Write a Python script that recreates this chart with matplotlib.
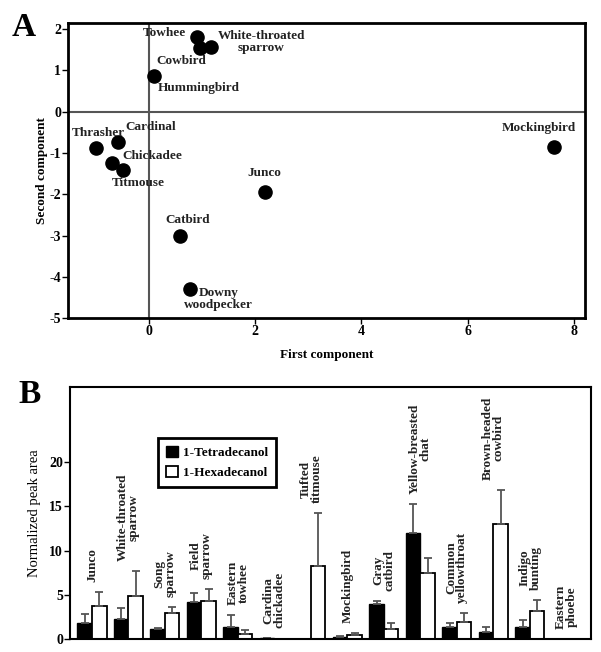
import numpy as np
import matplotlib
matplotlib.use("Agg")
import matplotlib.pyplot as plt
from matplotlib.patches import Patch

plt.rcParams['font.family'] = ['Liberation Serif', 'DejaVu Serif']
plt.rcParams['font.weight'] = 'bold'
plt.rcParams['axes.unicode_minus'] = False

# Panel A: PCA scores
birds_a = ["Towhee", "White-throated\nsparrow", "Cowbird", "Hummingbird", "Thrasher",
           "Cardinal", "Chickadee", "Titmouse", "Junco", "Mockingbird", "Catbird",
           "Downy\nwoodpecker"]
pc1 = [0.90, 1.18, 0.96, 0.09, -1.00, -0.58, -0.69, -0.48, 2.19, 7.63, 0.58, 0.77]
pc2 = [1.80, 1.57, 1.53, 0.86, -0.87, -0.74, -1.24, -1.42, -1.95, -0.86, -3.00, -4.29]

# Panel B: normalized peak areas
birds_b = ["Junco", "White-throated\nsparrow", "Song\nsparrow", "Field\nsparrow",
           "Eastern\ntowhee", "Cardina\nchickadee", "Tufted\ntitmouse", "Mockingbird",
           "Gray\ncatbird", "Yellow-breasted\nchat", "Common\nyellowthroat",
           "Brown-headed\ncowbird", "Indigo\nbunting", "Eastern\nphoebe"]
tetra = [1.85, 2.3, 1.1, 4.15, 1.3, 0.08, 0.05, 0.25, 3.9, 12.0, 1.3, 0.8, 1.3, 0.05]
tetra_err = [0.95, 1.2, 0.15, 1.0, 1.4, 0.0, 0.0, 0.05, 0.4, 3.3, 0.45, 0.5, 0.85, 0.0]
hexa = [3.7, 4.85, 2.9, 4.35, 0.55, 0.05, 8.2, 0.4, 1.15, 7.45, 1.9, 13.0, 3.15, 0.05]
hexa_err = [1.65, 2.85, 0.7, 1.35, 0.45, 0.0, 6.0, 0.3, 0.6, 1.7, 1.0, 3.9, 1.25, 0.0]

# label offsets in pixels (dx, dy, ha) for panel A
offsets = [(-11, 4, 'right'), (50, 5, 'center'), (-18, -13, 'center'), (4, -12, 'left'),
           (3, 15, 'center'), (7, 15, 'left'), (10, 7, 'left'), (15, -13, 'center'),
           (-1, 19, 'center'), (-16, 19, 'center'), (8, 16, 'center'), (29, -10, 'center')]

fig = plt.figure(figsize=(6.01, 6.52), dpi=100)

# ---- Panel A
axA = fig.add_axes([0.113, 0.512, 0.860, 0.453])
axA.axhline(0, color='#555555', lw=1.5, zorder=1)
axA.axvline(0, color='#555555', lw=1.5, zorder=1)
axA.scatter(pc1, pc2, s=90, color='black', zorder=3)
for name, x, y, (dx, dy, ha) in zip(birds_a, pc1, pc2, offsets):
    axA.annotate(name, (x, y), xytext=(dx, dy), textcoords='offset pixels',
                 ha=ha, va='center', fontsize=9.5, fontweight='bold',
                 linespacing=1.0, color='#222222')
axA.set_xlim(-1.52, 8.2)
axA.set_ylim(-5, 2.15)
axA.set_xticks([0, 2, 4, 6, 8])
axA.set_yticks([-5, -4, -3, -2, -1, 0, 1, 2])
axA.tick_params(direction='out', length=4, width=1, labelsize=10, pad=1)
axA.set_xlabel("First component", fontsize=9.5, fontweight='bold', labelpad=8)
axA.set_ylabel("Second component", fontsize=9.5, fontweight='bold', labelpad=1)
for s in axA.spines.values():
    s.set_linewidth(2)
fig.text(0.02, 0.958, "A", fontsize=24, fontweight='bold', va='center')

# ---- Panel B
axB = fig.add_axes([0.1165, 0.020, 0.8665, 0.3864])
x = np.arange(len(birds_b))
w = 0.4
ekw = dict(ecolor='#555555', elinewidth=1.3, capsize=3, capthick=1.3)
axB.bar(x - w / 2, tetra, w, color='black', edgecolor='black', lw=1,
        yerr=[np.zeros(len(x)), tetra_err], error_kw=ekw, label='1-Tetradecanol')
axB.bar(x + w / 2, hexa, w, color='white', edgecolor='black', lw=1.3,
        yerr=[np.zeros(len(x)), hexa_err], error_kw=ekw, label='1-Hexadecanol')
tops = np.maximum(np.array(tetra) + tetra_err, np.array(hexa) + hexa_err)
for i, name in enumerate(birds_b):
    axB.annotate(name, (x[i], tops[i]), xytext=(0, 10), textcoords='offset pixels',
                 rotation=90, ha='center', va='bottom', fontsize=9.5,
                 fontweight='bold', linespacing=0.9, color='#222222')
axB.set_xlim(-0.6, 13.67)
axB.set_ylim(0, 28.5)
axB.set_xticks([])
axB.set_yticks([0, 5, 10, 15, 20])
axB.tick_params(axis='y', direction='out', length=4, width=1, labelsize=10, pad=1)
axB.set_ylabel("Normalized peak area", fontsize=10.5, fontweight='normal', labelpad=6)
for s in axB.spines.values():
    s.set_linewidth(1.5)
handles = [Patch(facecolor='black', edgecolor='black'),
           Patch(facecolor='white', edgecolor='black', lw=1.3)]
leg = axB.legend(handles, ['1-Tetradecanol', '1-Hexadecanol'], loc='upper left',
                 bbox_to_anchor=(0.156, 0.825), fancybox=False, framealpha=1,
                 edgecolor='black', fontsize=9.5, handlelength=0.9, handleheight=1.0,
                 handletextpad=0.4, borderpad=0.6, labelspacing=0.5)
leg.get_frame().set_linewidth(2)
fig.text(0.03, 0.395, "B", fontsize=24, fontweight='bold', va='center')

fig.savefig("out.png", dpi=100)
